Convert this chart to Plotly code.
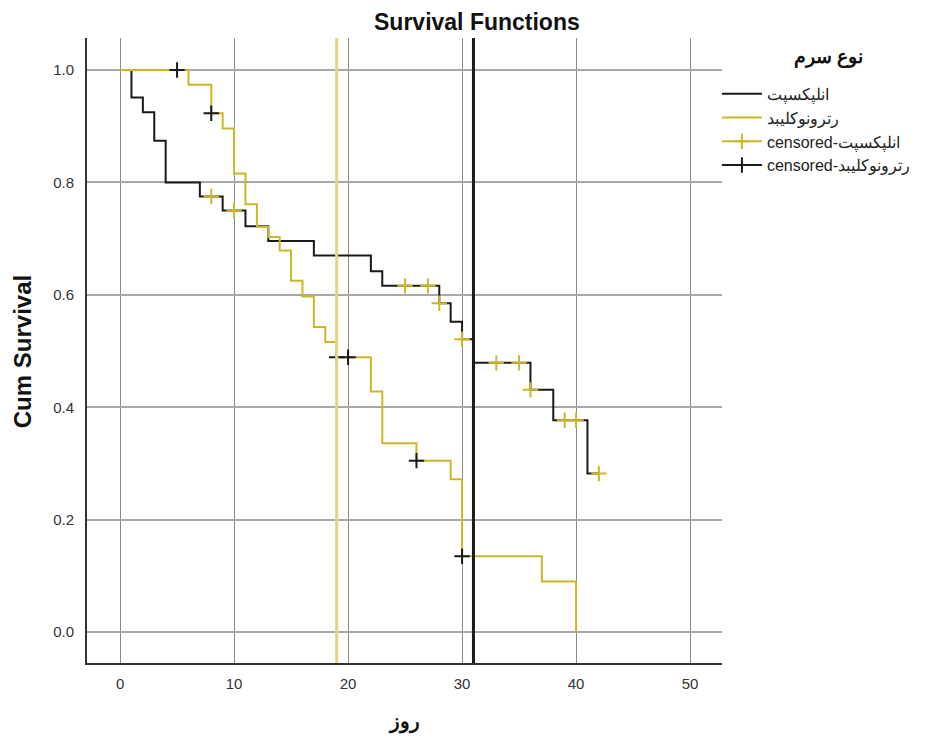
import plotly.graph_objects as go

# ---- data ----
group1_name = "انلپکسپت"
group2_name = "رترونوکلیبد"
legend_title = "نوع سرم"

g1_times = [0, 1, 2, 3, 4, 7, 9, 11, 13, 17, 22, 23, 28, 29, 30, 31, 36, 38, 41, 42]
g1_surv = [1.0, 0.951, 0.925, 0.874, 0.800, 0.775, 0.750, 0.722, 0.696, 0.670,
           0.642, 0.616, 0.585, 0.552, 0.521, 0.479, 0.431, 0.377, 0.282, 0.282]
g1_cens_times = [8, 10, 25, 27, 28, 30, 33, 35, 36, 39, 40, 42]
g1_cens_surv = [0.775, 0.750, 0.616, 0.616, 0.585, 0.521, 0.479, 0.479, 0.431, 0.377, 0.377, 0.282]

g2_times = [0, 6, 8, 9, 10, 11, 12, 13, 14, 15, 16, 17, 18, 19, 22, 23, 26, 29, 30, 37, 40]
g2_surv = [1.0, 0.974, 0.923, 0.896, 0.816, 0.761, 0.721, 0.703, 0.679, 0.625, 0.597,
           0.543, 0.516, 0.489, 0.428, 0.336, 0.305, 0.272, 0.135, 0.090, 0.0]
g2_cens_times = [5, 8, 19, 20, 26, 30]
g2_cens_surv = [1.0, 0.923, 0.489, 0.489, 0.305, 0.135]

ref_lines = [19, 31]  # medians
x_ticks = [0, 10, 20, 30, 40, 50]
y_ticks = [0.0, 0.2, 0.4, 0.6, 0.8, 1.0]

BLACK = "#1a1a1a"
YELLOW = "#cbb72a"
YELLOW_REF = "#e2d67e"
FONT = "Liberation Sans, Arial, sans-serif"


def gapped(xs, ys):
    gx, gy = [], []
    for x, y in zip(xs, ys):
        gx += [x, None]
        gy += [y, None]
    return gx, gy


fig = go.Figure()
fig.add_trace(go.Scatter(x=g1_times, y=g1_surv, mode="lines", line_shape="hv",
                         line=dict(color=BLACK, width=2), name=group1_name))
fig.add_trace(go.Scatter(x=g2_times, y=g2_surv, mode="lines", line_shape="hv",
                         line=dict(color=YELLOW, width=2), name=group2_name))
cx, cy = gapped(g1_cens_times, g1_cens_surv)
fig.add_trace(go.Scatter(x=cx, y=cy, mode="lines+markers", connectgaps=False,
                         line=dict(color=YELLOW, width=2),
                         marker=dict(symbol="cross-thin", size=11,
                                     line=dict(color=YELLOW, width=2)),
                         name="censored-" + group1_name))
cx, cy = gapped(g2_cens_times, g2_cens_surv)
fig.add_trace(go.Scatter(x=cx, y=cy, mode="lines+markers", connectgaps=False,
                         line=dict(color=BLACK, width=2),
                         marker=dict(symbol="cross-thin", size=11,
                                     line=dict(color=BLACK, width=2)),
                         name="censored-" + group2_name))

fig.add_shape(type="line", xref="x", yref="paper", x0=ref_lines[0], x1=ref_lines[0],
              y0=0, y1=1, line=dict(color=YELLOW_REF, width=3), layer="above")
fig.add_shape(type="line", xref="x", yref="paper", x0=ref_lines[1], x1=ref_lines[1],
              y0=0, y1=1, line=dict(color=BLACK, width=3), layer="above")

fig.update_layout(
    width=918, height=730,
    margin=dict(l=79, r=204, t=30, b=75, autoexpand=False),
    paper_bgcolor="white", plot_bgcolor="white",
    font=dict(family=FONT, color="#222"),
    showlegend=True,
    legend=dict(x=0.992, y=0.938, xanchor="left", yanchor="top",
                font=dict(size=16, color="#222"), tracegroupgap=0,
                itemwidth=40, bgcolor="rgba(0,0,0,0)"),
    xaxis=dict(range=[-2.9, 52.8], tickvals=x_ticks, showgrid=True,
               gridcolor="#8c8c8c", gridwidth=1, zeroline=False,
               showline=True, linecolor="#333", linewidth=2, ticks="",
               ticklabelstandoff=6,
               tickfont=dict(size=15, color="#333")),
    yaxis=dict(range=[-0.055, 1.057], tickvals=y_ticks, tickformat=".1f",
               showgrid=True, gridcolor="#a8a8a8", gridwidth=2, zeroline=False,
               showline=True, linecolor="#333", linewidth=2, ticks="",
               ticklabelstandoff=8,
               tickfont=dict(size=15, color="#333")),
    annotations=[
        dict(text="<b>Survival Functions</b>", xref="paper", yref="paper",
             x=0.614, y=1.026, showarrow=False, font=dict(size=23, color="#111"),
             xanchor="center", yanchor="middle"),
        dict(text="<b>Cum Survival</b>", xref="paper", yref="paper",
             x=-0.102, y=0.4976, showarrow=False, textangle=-90,
             font=dict(size=24, color="#111"), xanchor="center", yanchor="middle"),
        dict(text="<b>روز</b>", xref="paper", yref="paper",
             x=0.499, y=-0.094, showarrow=False, font=dict(size=20, color="#111"),
             xanchor="center", yanchor="middle"),
        dict(text="<b>" + legend_title + "</b>", xref="paper", yref="paper",
             x=1.167, y=0.970, showarrow=False, font=dict(size=19, color="#111"),
             xanchor="center", yanchor="middle"),
    ],
)

fig.write_html("out.html")
